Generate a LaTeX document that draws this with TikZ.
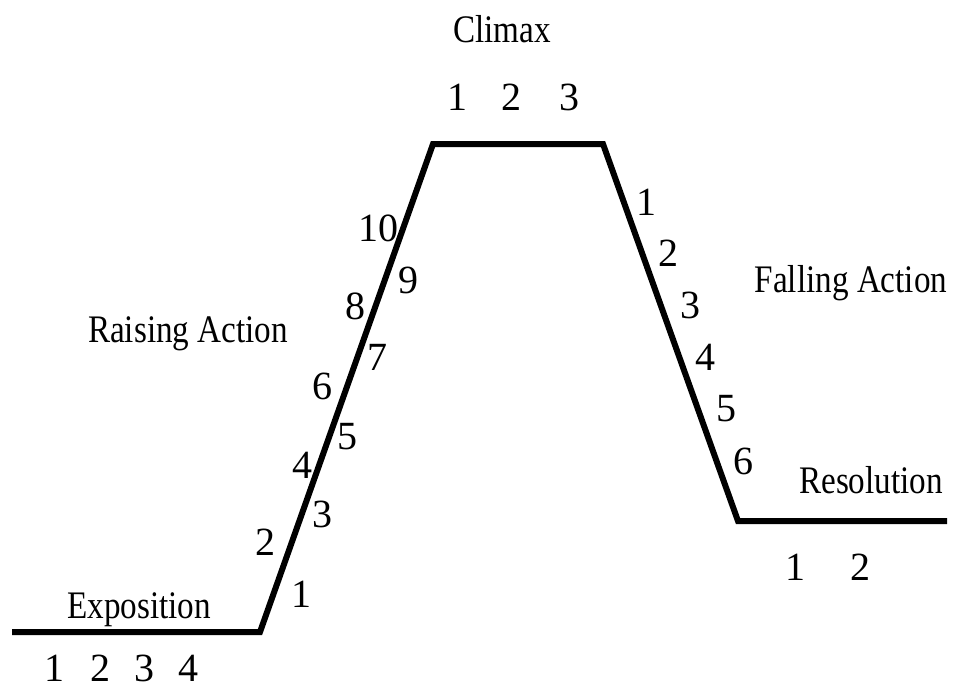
\documentclass[tikz,border=0pt]{standalone}
\usepackage{fontspec}
\usepackage{graphicx}
\setmainfont{Liberation Serif}
\newcommand{\narrowtxt}[1]{\scalebox{0.85}[1]{#1}}
\begin{document}
\begin{tikzpicture}[x=1pt,y=-1pt,
  plotline/.style={line width=6pt,line join=miter,line cap=butt},
  lbl/.style={font=\fontsize{39}{39}\selectfont,anchor=base,inner sep=0pt},
  num/.style={font=\fontsize{40}{40}\selectfont,anchor=base,inner sep=0pt},
  snum/.style={font=\fontsize{40}{40}\selectfont,anchor=center,inner sep=0pt}]
\useasboundingbox (0,0) rectangle (954,688);
\coordinate (a) at (12,632);
\coordinate (b) at (260,632);
\coordinate (c) at (433,144);
\coordinate (d) at (603,144);
\coordinate (e) at (738,521);
\coordinate (f) at (947,521);
\draw[plotline] (a) -- (b) -- (c) -- (d) -- (e) -- (f);
% labels
\node[lbl] (climax) at (502,42) {\narrowtxt{Climax}};
\node[lbl] (raising) at (188,342) {\narrowtxt{Raising Action}};
\node[lbl] (falling) at (851,292) {\narrowtxt{Falling Action}};
\node[lbl] (resol) at (871,493) {\narrowtxt{Resolution}};
\node[lbl] (expo) at (139,618) {\narrowtxt{Exposition}};
% climax numbers
\node[num] (c1) at (457,110) {1};
\node[num] (c2) at (511,110) {2};
\node[num] (c3) at (569,110) {3};
% exposition numbers
\node[num] (e1) at (55,681) {1};
\node[num] (e2) at (100,681) {2};
\node[num] (e3) at (144,681) {3};
\node[num] (e4) at (188,681) {4};
% resolution numbers
\node[num] (r1) at (795,580) {1};
\node[num] (r2) at (860,580) {2};
% raising numbers
\node[snum] (ra1) at (301,594) {1};
\node[snum] (ra2) at (265,542) {2};
\node[snum] (ra3) at (322,514) {3};
\node[snum] (ra4) at (302,465) {4};
\node[snum] (ra5) at (347,437) {5};
\node[snum] (ra6) at (322,386) {6};
\node[snum] (ra7) at (377,357) {7};
\node[snum] (ra8) at (355,306) {8};
\node[snum] (ra9) at (408,280) {9};
\node[snum] (ra10) at (378,228) {10};
% falling numbers
\node[snum] (f1) at (646,202) {1};
\node[snum] (f2) at (668,253) {2};
\node[snum] (f3) at (690,305) {3};
\node[snum] (f4) at (705,357) {4};
\node[snum] (f5) at (726,409) {5};
\node[snum] (f6) at (743,461) {6};
\end{tikzpicture}
\end{document}
